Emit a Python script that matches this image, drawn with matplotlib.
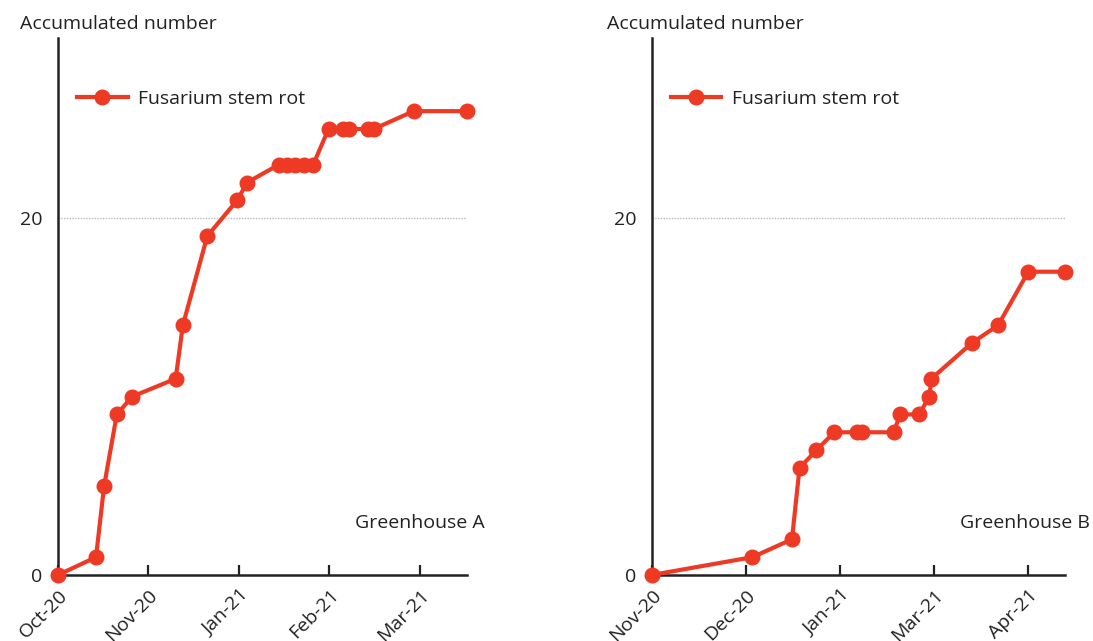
import matplotlib
matplotlib.use("Agg")
import matplotlib.pyplot as plt

plt.rcParams['font.family'] = ['Open Sans', 'DejaVu Sans']

# Greenhouse A (x in tick-position units: 0=Oct-20, 1=Nov-20, 2=Jan-21, 3=Feb-21, 4=Mar-21)
ticks_a = ["Oct-20", "Nov-20", "Jan-21", "Feb-21", "Mar-21"]
x_a = [0, 0.42, 0.51, 0.65, 0.82, 1.30, 1.38, 1.65, 1.98, 2.09,
       2.44, 2.53, 2.62, 2.72, 2.82, 2.99, 3.15, 3.22, 3.43, 3.49, 3.93, 4.52]
y_a = [0, 1, 5, 9, 10, 11, 14, 19, 21, 22,
       23, 23, 23, 23, 23, 25, 25, 25, 25, 25, 26, 26]

# Greenhouse B (0=Nov-20, 1=Dec-20, 2=Jan-21, 3=Mar-21, 4=Apr-21)
ticks_b = ["Nov-20", "Dec-20", "Jan-21", "Mar-21", "Apr-21"]
x_b = [0, 1.07, 1.49, 1.57, 1.75, 1.94, 2.18, 2.23, 2.57, 2.64, 2.84,
       2.95, 2.97, 3.40, 3.68, 4.00, 4.39]
y_b = [0, 1, 2, 6, 7, 8, 8, 8, 8, 9, 9, 10, 11, 13, 14, 17, 17]

series_name = "Fusarium stem rot"
panel_labels = ["Greenhouse A", "Greenhouse B"]
ylabel = "Accumulated number"

RED = "#EE3A24"
TXT = '#222222'
FS = 14
W, H = 1093, 641
fig = plt.figure(figsize=(W / 100, H / 100), dpi=100)


def make_ax(left_px, right_px, xmax, xs, ys, ticks, label, label_right_px):
    width = right_px - left_px
    ax = fig.add_axes([left_px / W, 1 - 575 / H, width / W, (575 - 38) / H])
    ax.plot(xs, ys, color=RED, lw=3, marker='o', ms=10.5, clip_on=False,
            label=series_name, zorder=3)
    ax.set_xlim(0, xmax)
    ax.set_ylim(0, 30.1)
    ax.set_yticks([0, 20])
    ax.set_yticklabels(["0", "20"])
    ax.axhline(20, color="#bbbbbb", lw=1, ls=(0, (1, 1)), zorder=1)
    ax.set_xticks(range(len(ticks)))
    ax.set_xticklabels(ticks, rotation=45, ha='right', rotation_mode='anchor')
    ax.tick_params(axis='x', direction='in', length=7, width=1.6, color=TXT,
                   labelsize=FS, pad=8, labelcolor=TXT)
    ax.tick_params(axis='y', length=0, labelsize=FS, pad=11, labelcolor=TXT)
    for s in ['top', 'right']:
        ax.spines[s].set_visible(False)
    for s in ['left', 'bottom']:
        ax.spines[s].set_linewidth(1.8)
        ax.spines[s].set_color(TXT)
    leg = ax.legend(loc='upper left', bbox_to_anchor=(19 / width, (575 - 90) / 537),
                    frameon=False, fontsize=FS, handlelength=2.6, handletextpad=0.55,
                    borderpad=0, borderaxespad=0)
    for t in leg.get_texts():
        t.set_color(TXT)
    ax.text((label_right_px - left_px) / width, 0.097, label, transform=ax.transAxes,
            ha='right', va='center', fontsize=FS, color=TXT)
    return ax


make_ax(58, 467, 4.52, x_a, y_a, ticks_a, panel_labels[0], 485)
make_ax(651.7, 1065, 4.39, x_b, y_b, ticks_b, panel_labels[1], 1090)

fig.text(20 / W, 1 - 24 / H, ylabel, ha='left', va='center', fontsize=FS, color=TXT)
fig.text(607 / W, 1 - 24 / H, ylabel, ha='left', va='center', fontsize=FS, color=TXT)

fig.savefig("out.png", dpi=100)
